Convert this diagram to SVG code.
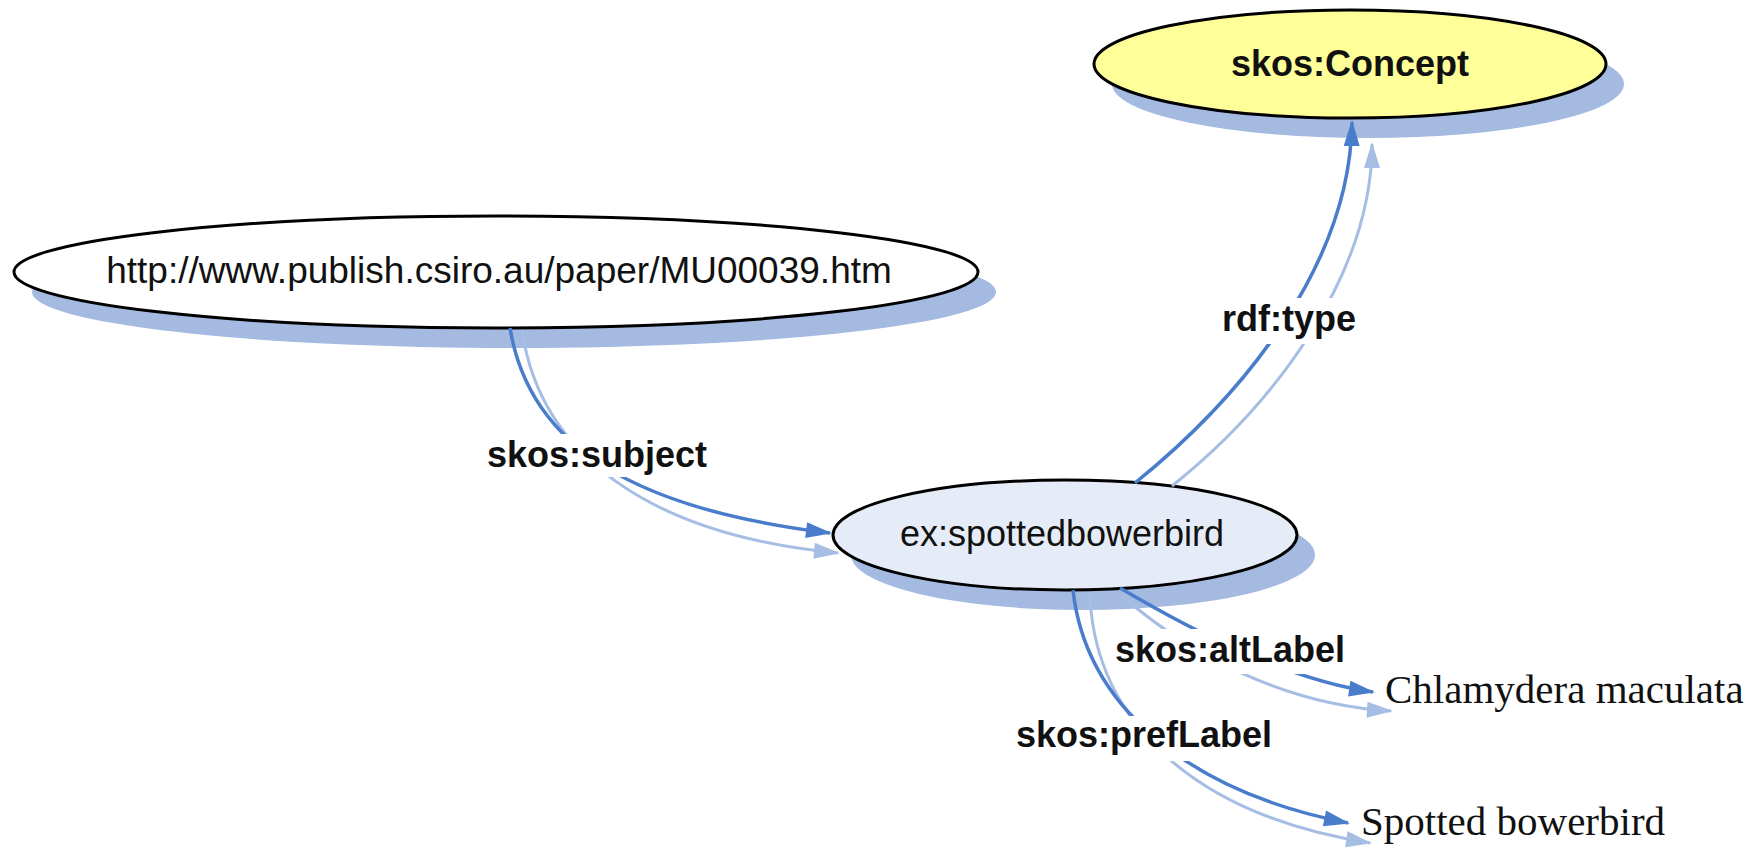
<svg xmlns="http://www.w3.org/2000/svg" width="1760" height="848" viewBox="0 0 1760 848">
<style>
.shadow{fill:#a4bae0}
.node{stroke:#000;stroke-width:3}
.ntext{font-family:"Liberation Sans",Arial,sans-serif;fill:#111}
.lbl{font-family:"Liberation Sans",Arial,sans-serif;font-weight:bold;font-size:36px;fill:#111}
.lit{font-family:"Liberation Serif","Times New Roman",serif;font-size:41px;fill:#111}
.e{fill:none;stroke:#4a7ccc;stroke-width:3.5}
.s{fill:none;stroke:#a6bde4;stroke-width:3}
.bg{fill:#fff}
</style>
<defs>
<marker id="md" viewBox="-28 -10 32 20" refX="0" refY="0" markerWidth="32" markerHeight="20" markerUnits="userSpaceOnUse" orient="auto">
<path d="M2,0 L-24,-8 L-24,8 Z" fill="#4a7ccc"/>
</marker>
<marker id="ml" viewBox="-28 -10 32 20" refX="0" refY="0" markerWidth="32" markerHeight="20" markerUnits="userSpaceOnUse" orient="auto">
<path d="M2,0 L-24,-8 L-24,8 Z" fill="#a6bde4"/>
</marker>
</defs>
<rect width="1760" height="848" fill="#fff"/>
<g id="node-concept">
<ellipse class="shadow" cx="1368" cy="84" rx="256" ry="54"/>
<ellipse class="node" cx="1350" cy="64" rx="256" ry="54" fill="#ffff99"/>
<text class="ntext" x="1350" y="76" text-anchor="middle" font-size="36" font-weight="bold">skos:Concept</text>
</g>
<g id="node-url">
<ellipse class="shadow" cx="514" cy="292" rx="482" ry="56"/>
<ellipse class="node" cx="496" cy="272" rx="482" ry="56" fill="#fff"/>
<text class="ntext" x="499" y="283" text-anchor="middle" font-size="37">http://www.publish.csiro.au/paper/MU00039.htm</text>
</g>
<g id="node-bird">
<ellipse class="shadow" cx="1083" cy="555" rx="232" ry="55"/>
<ellipse class="node" cx="1065" cy="535" rx="232" ry="55" fill="#e6ecf7"/>
<text class="ntext" x="1062" y="546" text-anchor="middle" font-size="36">ex:spottedbowerbird</text>
</g>
<g id="connectors">
<path class="s" d="M522,330 C540,455 650,535 838,553" marker-end="url(#ml)"/>
<path class="e" d="M510,328 C530,450 640,510 830,533" marker-end="url(#md)"/>
<path class="s" d="M1172,486 C1280,400 1372,270 1372,144" marker-end="url(#ml)"/>
<path class="e" d="M1135,483 C1250,390 1350,260 1352,122" marker-end="url(#md)"/>
<path class="s" d="M1122,596 C1190,655 1285,705 1391,711" marker-end="url(#ml)"/>
<path class="e" d="M1120,588 C1200,635 1290,680 1373,692" marker-end="url(#md)"/>
<path class="s" d="M1090,592 C1092,705 1175,812 1370,843" marker-end="url(#ml)"/>
<path class="e" d="M1073,590 C1085,700 1180,790 1348,823" marker-end="url(#md)"/>
<rect class="bg" x="481" y="434" width="234" height="43"/>
<text class="lbl" x="487" y="467">skos:subject</text>
<rect class="bg" x="1216" y="298" width="148" height="46"/>
<text class="lbl" x="1222" y="331">rdf:type</text>
<rect class="bg" x="1110" y="629" width="242" height="45"/>
<text class="lbl" x="1115" y="662">skos:altLabel</text>
<rect class="bg" x="1010" y="716" width="268" height="45"/>
<text class="lbl" x="1016" y="747">skos:prefLabel</text>
</g>
<g id="literal-alt">
<text class="lit" x="1385" y="703">Chlamydera maculata</text>
</g>
<g id="literal-pref">
<text class="lit" x="1361" y="835">Spotted bowerbird</text>
</g>
</svg>
